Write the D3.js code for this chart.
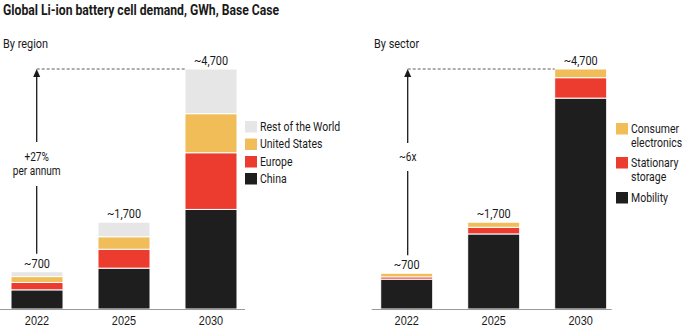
<!DOCTYPE html>
<html>
<head>
<meta charset="utf-8">
<script src="https://cdn.jsdelivr.net/npm/d3@7"></script>
<style>
  html, body { margin: 0; padding: 0; background: #fff; }
  svg { display: block; font-family: "Roboto", "Liberation Sans", sans-serif; }
</style>
</head>
<body>
<svg id="chart" width="689" height="332"></svg>
<script>
// ---- Data ----
const years = ["2022", "2025", "2030"];
const totalLabels = ["~700", "~1,700", "~4,700"];

const regionKeys = ["China", "Europe", "United States", "Rest of the World"];
const regionChina = [375, 800, 1950];
const regionEurope = [145, 370, 1110];
const regionUS = [115, 245, 765];
const regionRoW = [95, 285, 875];

const sectorKeys = ["Mobility", "Stationary storage", "Consumer electronics"];
const sectorMobility = [585, 1470, 4130];
const sectorStationary = [45, 130, 400];
const sectorConsumer = [70, 100, 170];

const title = "Global Li-ion battery cell demand, GWh, Base Case";
const leftSubtitle = "By region";
const rightSubtitle = "By sector";
const leftArrowText = ["+27%", "per annum"];
const rightArrowText = ["~6x"];

const colors = {
  "China": "#1f1e1f", "Europe": "#ec3b2f", "United States": "#f1bd58", "Rest of the World": "#e6e6e6",
  "Mobility": "#1f1e1f", "Stationary storage": "#ec3b2f", "Consumer electronics": "#f1bd58"
};

const svg = d3.select("#chart");

svg.append("text").attr("x", 3).attr("y", 15)
  .attr("font-size", 14.5).attr("font-weight", "bold").attr("fill", "#1a1a1a").text(title);

const y = d3.scaleLinear().domain([0, 4700]).range([309, 69]);

function panel(opts) {
  const { x0, x1, base0, base1, keys, rows, sub, subX, arrowX, arrowText, arrowMid, arrowGap, legend } = opts;
  const g = svg.append("g");
  const x = d3.scaleBand().domain(years).range([x0, x1]).paddingInner(0.402).paddingOuter(0);

  g.append("text").attr("x", subX).attr("y", 48).attr("font-size", 13).attr("fill", "#1a1a1a").text(sub);

  const data = years.map((yr, i) => {
    const o = { year: yr };
    keys.forEach((k, j) => o[k] = rows[j][i]);
    return o;
  });
  const stack = d3.stack().keys(keys)(data);

  g.selectAll("g.layer").data(stack).join("g")
    .attr("fill", d => colors[d.key])
    .selectAll("rect").data(d => d).join("rect")
    .attr("x", d => x(d.data.year))
    .attr("width", x.bandwidth())
    .attr("y", d => y(d[1]))
    .attr("height", d => Math.max(0, y(d[0]) - y(d[1])))
    .attr("stroke", "#fff").attr("stroke-width", 1);

  // baseline
  g.append("line").attr("x1", base0).attr("x2", base1).attr("y1", y(0) + 0.5).attr("y2", y(0) + 0.5)
    .attr("stroke", "#9a9a9a").attr("stroke-width", 1);

  // axis
  const ax = g.append("g").attr("transform", `translate(0,${y(0) + 2})`)
    .call(d3.axisBottom(x).tickSize(0).tickPadding(5));
  ax.select(".domain").remove();
  ax.selectAll("text").attr("font-size", 13).attr("fill", "#1a1a1a")
    .attr("font-family", "inherit").attr("font-weight", 500);

  // totals
  const totals = data.map(d => d3.sum(keys, k => d[k]));
  g.selectAll("text.total").data(years).join("text")
    .attr("x", d => x(d) + x.bandwidth() / 2)
    .attr("y", (d, i) => y(totals[i]) - 4)
    .attr("text-anchor", "middle").attr("font-size", 13).attr("fill", "#1a1a1a")
    .text((d, i) => totalLabels[i]);

  // arrow
  const topY = y(totals[2]);
  const botY = y(totals[0]) - 18;
  g.append("line").attr("x1", arrowX).attr("x2", x("2030")).attr("y1", topY).attr("y2", topY)
    .attr("stroke", "#333").attr("stroke-width", 0.8).attr("stroke-dasharray", "3,2");
  g.append("line").attr("x1", arrowX).attr("x2", arrowX).attr("y1", botY).attr("y2", arrowMid + arrowGap)
    .attr("stroke", "#1a1a1a").attr("stroke-width", 1.3);
  g.append("line").attr("x1", arrowX).attr("x2", arrowX).attr("y1", arrowMid - arrowGap).attr("y2", topY + 6)
    .attr("stroke", "#1a1a1a").attr("stroke-width", 1.3);
  g.append("path").attr("d", `M${arrowX - 3.5},${topY + 8} L${arrowX},${topY} L${arrowX + 3.5},${topY + 8} Z`)
    .attr("fill", "#1a1a1a");
  arrowText.forEach((t, i) => {
    g.append("text").attr("x", arrowX).attr("y", arrowMid - (arrowText.length - 1) * 7 + i * 14 + 4)
      .attr("text-anchor", "middle").attr("font-size", 12).attr("fill", "#1a1a1a").text(t);
  });

  // legend
  legend.items.forEach((it, i) => {
    const ly = legend.ys[i];
    g.append("rect").attr("x", legend.x).attr("y", ly).attr("width", 12).attr("height", 11.5)
      .attr("fill", colors[it.key]);
    it.lines.forEach((ln, j) => {
      g.append("text").attr("x", legend.x + 15).attr("y", ly + 10 + j * 14)
        .attr("font-size", 12.5).attr("fill", "#1a1a1a").text(ln);
    });
  });
}

panel({
  x0: 11, x1: 237, base0: 0, base1: 245,
  keys: regionKeys, rows: [regionChina, regionEurope, regionUS, regionRoW],
  sub: leftSubtitle, subX: 3, arrowX: 36.7, arrowText: leftArrowText, arrowMid: 164, arrowGap: 22,
  legend: {
    x: 245, ys: [121, 138.5, 156, 173],
    items: [
      { key: "Rest of the World", lines: ["Rest of the World"] },
      { key: "United States", lines: ["United States"] },
      { key: "Europe", lines: ["Europe"] },
      { key: "China", lines: ["China"] }
    ]
  }
});

panel({
  x0: 380.7, x1: 606.7, base0: 371.7, base1: 611.7,
  keys: sectorKeys, rows: [sectorMobility, sectorStationary, sectorConsumer],
  sub: rightSubtitle, subX: 374, arrowX: 407.7, arrowText: rightArrowText, arrowMid: 157, arrowGap: 14,
  legend: {
    x: 616, ys: [123, 157, 192],
    items: [
      { key: "Consumer electronics", lines: ["Consumer", "electronics"] },
      { key: "Stationary storage", lines: ["Stationary", "storage"] },
      { key: "Mobility", lines: ["Mobility"] }
    ]
  }
});

// condense all text horizontally to mimic the narrow typeface
svg.selectAll("text").each(function () {
  const x = +this.getAttribute("x") || 0;
  this.setAttribute("transform", `translate(${x},0) scale(0.84,1) translate(${-x},0)`);
});
</script>
</body>
</html>
